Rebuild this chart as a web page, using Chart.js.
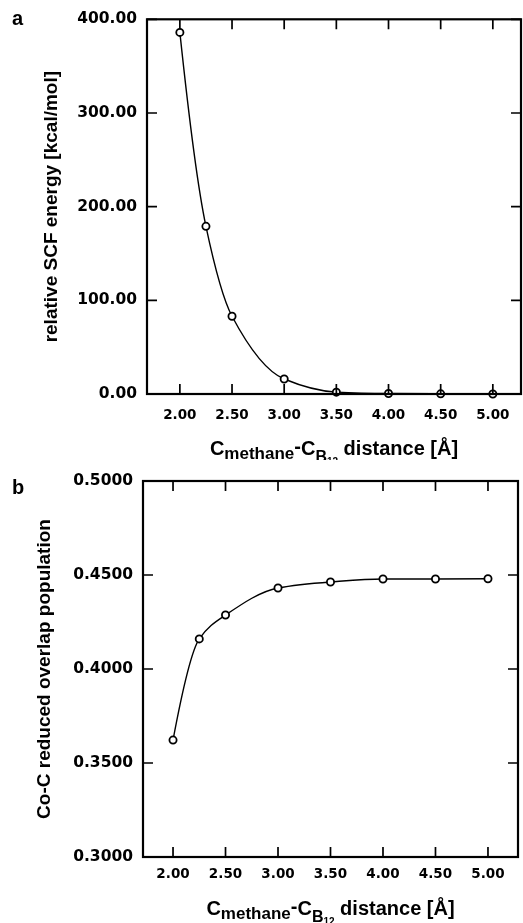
<!DOCTYPE html>
<html lang="en">
<head>
  <meta charset="UTF-8" />
  <title>Relative SCF energy and Co-C overlap population vs distance</title>
  <script src="https://cdn.jsdelivr.net/npm/chart.js"></script>
  <style>
    body { margin: 0; background: #fff; }
    .wrap { position: relative; width: 523px; height: 923px; }
    .panel { position: absolute; left: 0; }
    .tag { position: absolute; left: 12px; font: bold 20px "Liberation Sans", Arial, sans-serif; color: #000; }
  </style>
</head>
<body>
<div class="wrap">
  <canvas id="energyChart" class="panel" style="top:0" width="523" height="460"></canvas>
  <canvas id="overlapChart" class="panel" style="top:460px" width="523" height="463"></canvas>
  <span class="tag" style="top:7px">a</span>
  <span class="tag" style="top:476px">b</span>
</div>

<script>
  // data
  const distances = [2.0, 2.25, 2.5, 3.0, 3.5, 4.0, 4.5, 5.0];
  const scfEnergy = [386, 179, 83, 16, 2, 0.5, 0.2, 0];
  const overlapPop = [0.3622, 0.4160, 0.4287, 0.4431, 0.4463, 0.4479, 0.4479, 0.4480];

  const xTickValues = [2.0, 2.5, 3.0, 3.5, 4.0, 4.5, 5.0];
  const energyTicks = [0, 100, 200, 300, 400];
  const overlapTicks = [0.30, 0.35, 0.40, 0.45, 0.50];

  // x title pieces: text, size, baseline shift (subscripts)
  const xTitleParts = [
    ['C', 20, 0], ['methane', 17, 4], ['-', 20, -2], ['C', 20, 0],
    ['B', 16, 7], ['12', 10, 10], [' distance [\u00C5]', 20, 0]
  ];

  const sans = '"Liberation Sans", Arial, sans-serif';
  const tickFont = '"DejaVu Sans", sans-serif';

  // closed box with short inward ticks on every side
  const frameTicks = {
    id: 'frameTicks',
    afterDatasetsDraw(chart) {
      const { ctx, chartArea: a, scales: { x, y } } = chart;
      const len = 10;
      ctx.save();
      ctx.strokeStyle = '#000';
      ctx.lineWidth = 1.7;
      ctx.beginPath();
      x.ticks.forEach(t => {
        const px = x.getPixelForValue(t.value);
        ctx.moveTo(px, a.top); ctx.lineTo(px, a.top + len);
        ctx.moveTo(px, a.bottom); ctx.lineTo(px, a.bottom - len);
      });
      y.ticks.forEach(t => {
        const py = y.getPixelForValue(t.value);
        ctx.moveTo(a.left, py); ctx.lineTo(a.left + len, py);
        ctx.moveTo(a.right, py); ctx.lineTo(a.right - len, py);
      });
      ctx.stroke();
      ctx.lineWidth = 2.2;
      ctx.strokeRect(a.left, a.top, a.right - a.left, a.bottom - a.top);
      ctx.restore();
    }
  };

  // end slope for a pchip curve (3-point formula, kept shape preserving)
  function pchipEnd(h0, h1, d0, d1) {
    let m = ((2 * h0 + h1) * d0 - h0 * d1) / (h0 + h1);
    if (Math.sign(m) !== Math.sign(d0)) m = 0;
    else if (Math.sign(d0) !== Math.sign(d1) && Math.abs(m) > Math.abs(3 * d0)) m = 3 * d0;
    return m;
  }

  // replace chart.js control points with pchip ones (smoother at the steep first segment)
  const pchipCurve = {
    id: 'pchipCurve',
    beforeDatasetsDraw(chart) {
      const meta = chart.getDatasetMeta(0);
      const line = meta.dataset;
      line.updateControlPoints(chart.chartArea, 'x');
      const pts = line.points;
      const n = pts.length;
      const h = [], d = [];
      for (let i = 0; i < n - 1; i++) {
        h.push(pts[i + 1].x - pts[i].x);
        d.push((pts[i + 1].y - pts[i].y) / h[i]);
      }
      const m = new Array(n).fill(0);
      for (let k = 1; k < n - 1; k++) {
        if (d[k - 1] * d[k] > 0) {
          const w1 = 2 * h[k] + h[k - 1], w2 = h[k] + 2 * h[k - 1];
          m[k] = (w1 + w2) / (w1 / d[k - 1] + w2 / d[k]);
        }
      }
      m[0] = pchipEnd(h[0], h[1], d[0], d[1]);
      m[n - 1] = pchipEnd(h[n - 2], h[n - 3], d[n - 2], d[n - 3]);
      for (let i = 0; i < n; i++) {
        if (i > 0) { pts[i].cp1x = pts[i].x - h[i - 1] / 3; pts[i].cp1y = pts[i].y - m[i] * h[i - 1] / 3; }
        if (i < n - 1) { pts[i].cp2x = pts[i].x + h[i] / 3; pts[i].cp2y = pts[i].y + m[i] * h[i] / 3; }
      }
    }
  };

  // axis title with subscripts, which the built-in title can't do
  const richXTitle = {
    id: 'richXTitle',
    afterDraw(chart, args, opts) {
      const { ctx, chartArea: a } = chart;
      ctx.save();
      ctx.fillStyle = '#000';
      ctx.textBaseline = 'alphabetic';
      let w = 0;
      xTitleParts.forEach(([t, s]) => { ctx.font = `bold ${s}px ${sans}`; w += ctx.measureText(t).width; });
      let cx = (a.left + a.right) / 2 - w / 2;
      const base = a.bottom + opts.offset;
      xTitleParts.forEach(([t, s, dy]) => {
        ctx.font = `bold ${s}px ${sans}`;
        ctx.fillText(t, cx, base + dy);
        cx += ctx.measureText(t).width;
      });
      ctx.restore();
    }
  };

  function buildPanel(id, values, yTicks, yTitle, digits, box) {
    return new Chart(document.getElementById(id), {
      type: 'line',
      data: {
        datasets: [{
          data: distances.map((d, i) => ({ x: d, y: values[i] })),
          borderColor: '#000',
          borderWidth: 1.4,
          cubicInterpolationMode: 'monotone',
          pointRadius: 3.6,
          pointBackgroundColor: '#fff',
          pointBorderColor: '#000',
          pointBorderWidth: 1.8,
          fill: false,
          clip: false
        }]
      },
      options: {
        responsive: false,
        animation: false,
        devicePixelRatio: 1,
        layout: { autoPadding: false, padding: { top: box.top, right: box.right, left: 0, bottom: 0 } },
        plugins: {
          legend: { display: false },
          tooltip: { enabled: false },
          richXTitle: { offset: box.titleOffset }
        },
        scales: {
          x: {
            type: 'linear',
            min: box.xMin,
            max: box.xMax,
            grid: { display: false, drawTicks: false },
            border: { display: false },
            afterBuildTicks: s => { s.ticks = xTickValues.map(v => ({ value: v })); },
            afterFit: s => { s.height = box.bottomSpace; s.paddingLeft = 0; s.paddingRight = 0; },
            ticks: {
              padding: box.xPad,
              color: '#000',
              maxRotation: 0,
              autoSkip: false,
              font: { family: tickFont, size: 13.5, weight: 'bold' },
              callback: v => Number(v).toFixed(2)
            }
          },
          y: {
            min: yTicks[0],
            max: yTicks[yTicks.length - 1],
            grid: { display: false, drawTicks: false },
            border: { display: false },
            afterBuildTicks: s => { s.ticks = yTicks.map(v => ({ value: v })); },
            afterFit: s => { s.width = box.left; },
            ticks: {
              padding: 10,
              color: '#000',
              font: { family: tickFont, size: 15.5, weight: 'bold' },
              callback: v => Number(v).toFixed(digits)
            },
            title: {
              display: true,
              text: yTitle,
              color: '#000',
              font: { family: sans, size: 19, weight: 'bold' },
              padding: { top: box.titlePad, bottom: 0 }
            }
          }
        }
      },
      plugins: [pchipCurve, frameTicks, richXTitle]
    });
  }

  buildPanel('energyChart', scfEnergy, energyTicks, 'relative SCF energy [kcal/mol]', 2, {
    top: 19, right: 2, left: 147, bottomSpace: 66,
    xMin: 1.685, xMax: 5.27, xPad: 13, titlePad: 40, titleOffset: 61
  });

  buildPanel('overlapChart', overlapPop, overlapTicks, 'Co-C reduced overlap population', 4, {
    top: 21, right: 5, left: 143, bottomSpace: 66,
    xMin: 1.714, xMax: 5.286, xPad: 9, titlePad: 33, titleOffset: 58
  });
</script>
</body>
</html>
